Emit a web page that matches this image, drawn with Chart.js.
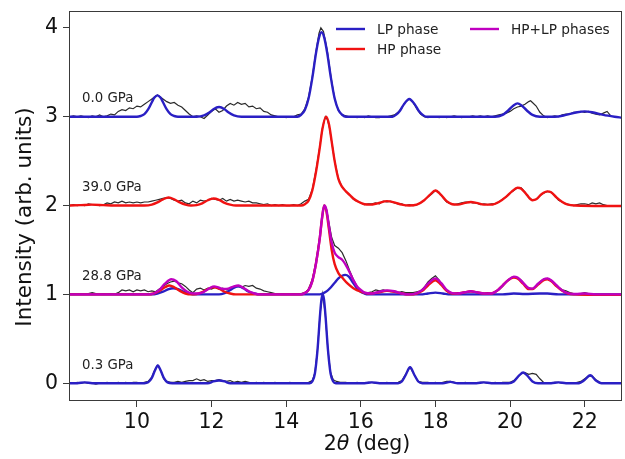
<!DOCTYPE html>
<html>
<head>
<meta charset="utf-8">
<script src="https://cdn.jsdelivr.net/npm/chart.js@4.4.1/dist/chart.umd.min.js"></script>
<style>
  html, body { margin: 0; padding: 0; background: #fff; }
  #wrap { width: 625px; height: 459px; position: relative; }
</style>
</head>
<body>
<div id="wrap"><canvas id="xrdChart"></canvas></div>
<script>
// axis ticks
const xTicks = [10, 12, 14, 16, 18, 20, 22];
const yTicks = [0, 1, 2, 3, 4];

// pressure labels and the y offset of each pattern
const pressureLabels = ['0.0 GPa', '39.0 GPa', '28.8 GPa', '0.3 GPa'];
const pressureOffsets = [3, 2, 1, 0];

// 0.0 GPa : measured pattern + LP fit
const obs00 = [[8.2,3.0],[8.3,3.01],[8.4,3.0],[8.5,3.01],[8.6,3.0],[8.7,2.99],[8.8,3.01],[8.9,3.0],[9.0,3.02],[9.1,3.0],[9.2,3.01],[9.3,3.03],[9.4,3.02],[9.5,3.06],[9.6,3.08],[9.7,3.07],[9.8,3.1],[9.9,3.09],[10.0,3.12],[10.1,3.11],[10.2,3.14],[10.3,3.17],[10.4,3.2],[10.5,3.23],[10.55,3.245],[10.6,3.23],[10.7,3.2],[10.8,3.17],[10.9,3.15],[11.0,3.16],[11.1,3.13],[11.2,3.11],[11.3,3.07],[11.4,3.03],[11.5,3.0],[11.6,3.01],[11.7,3.0],[11.8,2.98],[11.9,3.02],[12.0,3.06],[12.1,3.09],[12.2,3.05],[12.3,3.07],[12.4,3.12],[12.5,3.15],[12.6,3.13],[12.7,3.16],[12.8,3.14],[12.9,3.15],[13.0,3.11],[13.1,3.12],[13.2,3.09],[13.3,3.1],[13.4,3.06],[13.5,3.05],[13.6,3.02],[13.7,3.01],[13.8,3.0],[13.9,3.0],[14.0,2.99],[14.1,3.0],[14.2,3.0],[14.3,3.02],[14.4,3.03],[14.5,3.09],[14.6,3.22],[14.7,3.45],[14.8,3.74],[14.88,3.94],[14.93,4.0],[15.0,3.96],[15.1,3.75],[15.2,3.45],[15.3,3.2],[15.4,3.07],[15.5,3.02],[15.6,3.01],[15.7,3.0],[15.8,3.0],[15.9,2.99],[16.0,3.0],[16.1,2.99],[16.2,3.01],[16.3,3.0],[16.4,2.99],[16.5,2.99],[16.6,3.0],[16.7,3.0],[16.8,3.01],[16.9,3.02],[17.0,3.05],[17.1,3.1],[17.2,3.17],[17.3,3.2],[17.4,3.16],[17.5,3.09],[17.6,3.03],[17.7,3.0],[17.8,2.99],[17.9,3.0],[18.0,3.0],[18.1,2.99],[18.2,3.0],[18.3,2.99],[18.4,3.0],[18.5,3.01],[18.6,3.0],[18.7,2.99],[18.8,3.0],[18.9,3.0],[19.0,3.01],[19.1,3.0],[19.2,3.01],[19.3,3.0],[19.4,3.01],[19.5,3.0],[19.6,3.01],[19.7,3.02],[19.8,3.03],[19.9,3.04],[20.0,3.06],[20.1,3.09],[20.2,3.11],[20.3,3.12],[20.4,3.14],[20.5,3.17],[20.55,3.18],[20.6,3.16],[20.7,3.12],[20.8,3.05],[20.9,3.01],[21.0,2.99],[21.1,3.0],[21.2,3.01],[21.3,3.0],[21.4,3.02],[21.5,3.03],[21.6,3.03],[21.7,3.05],[21.8,3.05],[21.9,3.06],[22.0,3.05],[22.1,3.06],[22.2,3.04],[22.3,3.03],[22.4,3.02],[22.5,3.04],[22.6,3.06],[22.7,3.01]];
const lp00 = [[8.2,3.0],[10.0,3.0],[10.1,3.008],[10.2,3.029],[10.3,3.082],[10.4,3.163],[10.47,3.215],[10.55,3.24],[10.63,3.215],[10.7,3.163],[10.8,3.082],[10.9,3.029],[11.0,3.008],[11.1,3.0],[11.6,3.0],[11.8,3.015],[11.95,3.05],[12.05,3.085],[12.2,3.11],[12.35,3.085],[12.45,3.05],[12.6,3.015],[12.8,3.0],[14.3,3.0],[14.4,3.022],[14.5,3.075],[14.6,3.205],[14.7,3.435],[14.8,3.717],[14.88,3.89],[14.95,3.95],[15.02,3.89],[15.1,3.717],[15.2,3.435],[15.3,3.205],[15.4,3.075],[15.5,3.022],[15.6,3.0],[16.85,3.0],[16.95,3.024],[17.05,3.068],[17.15,3.136],[17.3,3.2],[17.45,3.136],[17.55,3.068],[17.65,3.024],[17.75,3.0],[19.6,3.0],[19.8,3.02],[19.95,3.07],[20.1,3.13],[20.2,3.15],[20.3,3.13],[20.45,3.07],[20.6,3.02],[20.8,3.0],[21.2,3.0],[21.5,3.02],[21.8,3.05],[22.0,3.06],[22.2,3.05],[22.5,3.02],[22.8,3.0],[23.0,2.99]];

// 39.0 GPa : measured pattern + HP fit
const obs390 = [[8.2,2.0],[8.3,2.01],[8.4,2.0],[8.5,2.01],[8.6,2.0],[8.7,2.02],[8.8,2.01],[8.9,2.01],[9.0,2.0],[9.1,2.01],[9.2,2.03],[9.3,2.02],[9.4,2.04],[9.5,2.03],[9.6,2.05],[9.7,2.03],[9.8,2.04],[9.9,2.03],[10.0,2.04],[10.1,2.03],[10.2,2.04],[10.3,2.04],[10.4,2.05],[10.5,2.06],[10.6,2.07],[10.7,2.08],[10.8,2.09],[10.9,2.08],[11.0,2.06],[11.1,2.05],[11.2,2.06],[11.3,2.03],[11.4,2.02],[11.5,2.05],[11.6,2.03],[11.7,2.06],[11.8,2.05],[11.9,2.06],[12.0,2.08],[12.1,2.07],[12.2,2.06],[12.3,2.08],[12.4,2.05],[12.5,2.07],[12.6,2.05],[12.7,2.06],[12.8,2.05],[12.9,2.04],[13.0,2.05],[13.1,2.03],[13.2,2.03],[13.3,2.02],[13.4,2.01],[13.5,2.02],[13.6,2.0],[13.7,2.01],[13.8,2.0],[13.9,2.01],[14.0,2.0],[14.1,2.0],[14.2,2.01],[14.3,2.0],[14.4,2.02],[14.5,2.05],[14.6,2.07],[14.7,2.18],[14.8,2.4],[14.9,2.66],[14.97,2.87],[15.05,3.0],[15.1,2.97],[15.15,2.9],[15.22,2.72],[15.3,2.5],[15.4,2.3],[15.5,2.21],[15.6,2.16],[15.7,2.12],[15.8,2.07],[15.9,2.05],[16.0,2.03],[16.1,2.01],[16.2,2.02],[16.3,2.02],[16.4,2.03],[16.5,2.02],[16.6,2.05],[16.7,2.04],[16.8,2.05],[16.9,2.03],[17.0,2.02],[17.1,2.02],[17.2,2.0],[17.3,2.01],[17.4,2.0],[17.5,2.01],[17.6,2.03],[17.7,2.06],[17.8,2.1],[17.9,2.13],[18.0,2.17],[18.1,2.15],[18.2,2.09],[18.3,2.04],[18.4,2.02],[18.5,2.01],[18.6,2.02],[18.7,2.03],[18.8,2.04],[18.9,2.04],[19.0,2.03],[19.1,2.03],[19.2,2.01],[19.3,2.02],[19.4,2.01],[19.5,2.02],[19.6,2.02],[19.7,2.04],[19.8,2.07],[19.9,2.1],[20.0,2.14],[20.1,2.17],[20.2,2.2],[20.3,2.2],[20.4,2.15],[20.5,2.09],[20.6,2.06],[20.7,2.07],[20.8,2.11],[20.9,2.14],[21.0,2.16],[21.1,2.15],[21.2,2.11],[21.3,2.06],[21.4,2.04],[21.5,2.02],[21.6,2.01],[21.7,2.0],[21.8,2.01],[21.9,2.02],[22.0,2.02],[22.1,2.01],[22.2,2.03],[22.3,2.02],[22.4,2.03],[22.5,2.01],[22.6,2.0],[22.7,2.0]];
const hp390 = [[8.2,2.0],[8.5,2.005],[8.8,2.01],[9.1,2.005],[9.4,2.0],[10.2,2.0],[10.4,2.01],[10.55,2.035],[10.7,2.07],[10.85,2.09],[11.0,2.07],[11.15,2.035],[11.3,2.01],[11.45,2.0],[11.6,2.005],[11.75,2.025],[11.9,2.06],[12.05,2.08],[12.2,2.065],[12.35,2.03],[12.5,2.01],[12.65,2.0],[14.4,2.0],[14.5,2.015],[14.6,2.055],[14.7,2.17],[14.8,2.38],[14.9,2.65],[14.97,2.86],[15.07,3.0],[15.15,2.91],[15.22,2.72],[15.3,2.5],[15.4,2.3],[15.5,2.21],[15.6,2.16],[15.7,2.12],[15.8,2.08],[15.95,2.04],[16.1,2.015],[16.25,2.01],[16.45,2.025],[16.7,2.05],[16.9,2.035],[17.1,2.01],[17.3,2.0],[17.5,2.01],[17.7,2.06],[17.85,2.12],[18.0,2.17],[18.15,2.12],[18.3,2.05],[18.45,2.015],[18.6,2.01],[18.8,2.03],[18.95,2.04],[19.1,2.03],[19.3,2.01],[19.5,2.01],[19.7,2.04],[19.9,2.1],[20.05,2.16],[20.2,2.2],[20.3,2.19],[20.45,2.12],[20.6,2.06],[20.7,2.07],[20.85,2.13],[21.0,2.16],[21.1,2.15],[21.25,2.09],[21.4,2.04],[21.55,2.01],[21.75,2.0],[22.5,1.995],[23.0,1.995]];

// 28.8 GPa : measured pattern + HP, LP and HP+LP fits
const obs288 = [[8.2,1.0],[8.3,1.01],[8.4,1.0],[8.5,1.01],[8.6,1.0],[8.7,1.01],[8.8,1.02],[8.9,1.01],[9.0,1.0],[9.1,1.01],[9.2,1.0],[9.3,1.01],[9.4,1.0],[9.5,1.02],[9.6,1.05],[9.7,1.04],[9.8,1.05],[9.9,1.03],[10.0,1.05],[10.1,1.04],[10.2,1.05],[10.3,1.03],[10.4,1.04],[10.5,1.03],[10.6,1.06],[10.7,1.09],[10.8,1.12],[10.9,1.14],[11.0,1.15],[11.1,1.13],[11.2,1.12],[11.3,1.09],[11.4,1.05],[11.5,1.02],[11.6,1.06],[11.7,1.07],[11.8,1.05],[11.9,1.07],[12.0,1.06],[12.1,1.08],[12.2,1.06],[12.3,1.07],[12.4,1.05],[12.5,1.07],[12.6,1.08],[12.7,1.09],[12.8,1.08],[12.9,1.1],[13.0,1.09],[13.1,1.1],[13.2,1.07],[13.3,1.06],[13.4,1.04],[13.5,1.03],[13.6,1.02],[13.7,1.01],[13.8,1.0],[13.9,1.01],[14.0,1.0],[14.1,1.0],[14.2,1.01],[14.3,1.0],[14.4,1.01],[14.5,1.02],[14.6,1.06],[14.7,1.17],[14.8,1.37],[14.9,1.65],[14.96,1.87],[15.02,2.0],[15.08,1.96],[15.15,1.8],[15.22,1.64],[15.3,1.55],[15.4,1.52],[15.5,1.47],[15.6,1.38],[15.7,1.27],[15.8,1.17],[15.9,1.09],[16.0,1.04],[16.1,1.02],[16.2,1.02],[16.3,1.03],[16.4,1.05],[16.5,1.04],[16.6,1.05],[16.7,1.04],[16.8,1.03],[16.9,1.03],[17.0,1.02],[17.1,1.03],[17.2,1.02],[17.3,1.02],[17.4,1.02],[17.5,1.03],[17.6,1.04],[17.7,1.08],[17.8,1.14],[17.9,1.18],[18.0,1.21],[18.1,1.16],[18.2,1.09],[18.3,1.04],[18.4,1.01],[18.5,1.01],[18.6,1.02],[18.7,1.02],[18.8,1.03],[18.9,1.03],[19.0,1.03],[19.1,1.02],[19.2,1.02],[19.3,1.01],[19.4,1.02],[19.5,1.01],[19.6,1.03],[19.7,1.05],[19.8,1.09],[19.9,1.14],[20.0,1.18],[20.1,1.2],[20.2,1.19],[20.3,1.16],[20.4,1.11],[20.5,1.07],[20.6,1.06],[20.7,1.1],[20.8,1.14],[20.9,1.17],[21.0,1.18],[21.1,1.15],[21.2,1.12],[21.3,1.08],[21.4,1.05],[21.5,1.04],[21.6,1.02],[21.7,1.01],[21.8,1.0],[21.9,1.01],[22.0,1.02],[22.1,1.01],[22.2,1.0],[22.3,1.0],[22.5,1.0],[22.7,1.0]];
const hp288 = [[8.2,1.0],[10.3,1.0],[10.45,1.01],[10.6,1.04],[10.75,1.08],[10.87,1.1],[11.0,1.08],[11.15,1.04],[11.3,1.01],[11.45,1.0],[11.6,1.005],[11.75,1.025],[11.9,1.06],[12.05,1.08],[12.2,1.065],[12.35,1.03],[12.5,1.01],[12.65,1.0],[14.4,1.0],[14.5,1.015],[14.6,1.05],[14.7,1.15],[14.8,1.35],[14.9,1.63],[14.96,1.85],[15.02,2.0],[15.08,1.93],[15.15,1.72],[15.22,1.5],[15.3,1.34],[15.4,1.24],[15.5,1.19],[15.65,1.12],[15.8,1.07],[16.0,1.03],[16.2,1.01],[16.45,1.02],[16.7,1.04],[16.9,1.03],[17.1,1.01],[17.3,1.0],[17.5,1.01],[17.65,1.04],[17.8,1.1],[18.0,1.16],[18.15,1.11],[18.3,1.04],[18.45,1.01],[18.6,1.01],[18.8,1.025],[18.95,1.035],[19.1,1.025],[19.3,1.01],[19.5,1.01],[19.65,1.04],[19.8,1.1],[19.95,1.16],[20.1,1.19],[20.2,1.18],[20.35,1.12],[20.5,1.06],[20.6,1.06],[20.75,1.11],[20.9,1.16],[21.0,1.17],[21.1,1.15],[21.25,1.09],[21.4,1.04],[21.55,1.01],[21.75,1.0],[22.3,0.995],[23.0,0.995]];
const lp288 = [[8.2,1.0],[10.4,1.0],[10.55,1.01],[10.7,1.03],[10.85,1.06],[10.97,1.07],[11.1,1.06],[11.25,1.03],[11.4,1.01],[11.55,1.0],[12.2,1.0],[12.35,1.015],[12.5,1.05],[12.62,1.08],[12.72,1.09],[12.85,1.07],[13.0,1.03],[13.15,1.01],[13.3,1.0],[14.9,1.0],[15.0,1.015],[15.1,1.04],[15.2,1.08],[15.3,1.13],[15.4,1.18],[15.5,1.21],[15.58,1.22],[15.68,1.2],[15.78,1.14],[15.88,1.08],[15.98,1.035],[16.1,1.01],[16.2,1.0],[17.6,1.0],[17.8,1.01],[18.0,1.02],[18.2,1.01],[18.4,1.0],[19.8,1.0],[20.1,1.01],[20.4,1.005],[20.8,1.01],[21.0,1.01],[21.3,1.0],[23.0,1.0]];
const mix288 = [[8.2,1.0],[10.3,1.0],[10.45,1.01],[10.6,1.05],[10.75,1.12],[10.92,1.17],[11.05,1.15],[11.2,1.08],[11.35,1.03],[11.5,1.01],[11.65,1.01],[11.8,1.03],[11.95,1.07],[12.07,1.09],[12.2,1.075],[12.33,1.06],[12.45,1.065],[12.6,1.09],[12.72,1.1],[12.85,1.075],[13.0,1.035],[13.15,1.01],[13.3,1.0],[14.4,1.0],[14.5,1.015],[14.6,1.05],[14.7,1.15],[14.8,1.35],[14.9,1.63],[14.96,1.86],[15.02,2.0],[15.08,1.95],[15.15,1.76],[15.22,1.58],[15.3,1.47],[15.4,1.42],[15.5,1.39],[15.6,1.33],[15.7,1.25],[15.8,1.16],[15.9,1.09],[16.0,1.05],[16.1,1.02],[16.3,1.01],[16.5,1.03],[16.7,1.045],[16.9,1.035],[17.1,1.01],[17.3,1.0],[17.5,1.015],[17.65,1.05],[17.8,1.12],[18.0,1.18],[18.15,1.13],[18.3,1.05],[18.45,1.015],[18.6,1.01],[18.8,1.025],[18.95,1.035],[19.1,1.025],[19.3,1.01],[19.5,1.01],[19.65,1.04],[19.8,1.1],[19.95,1.16],[20.1,1.2],[20.2,1.19],[20.35,1.13],[20.5,1.07],[20.6,1.065],[20.75,1.12],[20.9,1.17],[21.0,1.18],[21.1,1.16],[21.25,1.1],[21.4,1.045],[21.55,1.015],[21.75,1.005],[22.0,1.01],[22.3,1.0],[23.0,1.0]];

// 0.3 GPa : measured pattern + LP fit
const obs03 = [[8.2,0.0],[8.3,0.0],[8.4,0.01],[8.5,0.0],[8.6,0.01],[8.7,0.0],[8.8,0.0],[8.9,-0.01],[9.0,0.0],[9.1,0.0],[9.2,0.01],[9.3,0.0],[9.4,0.0],[9.5,0.01],[9.6,0.0],[9.7,0.01],[9.8,0.0],[9.9,0.01],[10.0,0.01],[10.1,0.0],[10.2,0.01],[10.3,0.02],[10.4,0.07],[10.48,0.15],[10.56,0.2],[10.64,0.14],[10.72,0.05],[10.8,0.02],[10.9,0.01],[11.0,0.01],[11.1,0.02],[11.2,0.01],[11.3,0.02],[11.4,0.03],[11.5,0.03],[11.6,0.05],[11.7,0.03],[11.8,0.04],[11.9,0.02],[12.0,0.03],[12.1,0.03],[12.2,0.04],[12.3,0.03],[12.4,0.02],[12.5,0.03],[12.6,0.01],[12.7,0.02],[12.8,0.01],[12.9,0.02],[13.0,0.01],[13.1,0.0],[13.2,0.01],[13.3,0.0],[13.4,0.01],[13.5,0.0],[13.6,0.0],[13.7,0.01],[13.8,0.0],[13.9,0.0],[14.0,0.0],[14.1,0.01],[14.2,0.0],[14.3,0.0],[14.4,0.0],[14.5,0.0],[14.6,0.01],[14.7,0.03],[14.77,0.12],[14.84,0.38],[14.91,0.79],[14.98,1.0],[15.05,0.77],[15.12,0.37],[15.19,0.12],[15.26,0.04],[15.35,0.02],[15.45,0.01],[15.6,0.01],[15.7,0.0],[15.8,0.0],[15.9,0.01],[16.0,0.0],[16.1,0.0],[16.2,0.01],[16.3,0.01],[16.4,0.0],[16.5,0.0],[16.6,0.0],[16.7,0.01],[16.8,0.0],[16.9,0.0],[17.0,0.01],[17.1,0.03],[17.2,0.1],[17.32,0.18],[17.44,0.09],[17.54,0.02],[17.65,0.01],[17.8,0.01],[17.9,0.0],[18.0,0.01],[18.1,0.0],[18.2,0.01],[18.3,0.02],[18.4,0.02],[18.5,0.01],[18.6,0.0],[18.7,0.0],[18.8,0.01],[18.9,0.0],[19.0,0.0],[19.1,0.0],[19.2,0.01],[19.3,0.01],[19.4,0.0],[19.5,0.0],[19.6,0.01],[19.7,0.0],[19.8,0.01],[19.9,0.01],[20.0,0.01],[20.1,0.03],[20.2,0.07],[20.3,0.11],[20.4,0.12],[20.5,0.1],[20.6,0.11],[20.7,0.1],[20.8,0.05],[20.9,0.01],[21.0,0.0],[21.1,0.0],[21.2,0.01],[21.3,0.01],[21.4,0.0],[21.5,0.0],[21.6,0.0],[21.7,0.0],[21.8,0.01],[21.9,0.02],[22.0,0.05],[22.1,0.08],[22.2,0.08],[22.3,0.04],[22.4,0.01],[22.5,0.0],[22.6,0.0],[22.7,0.0]];
const lp03 = [[8.2,0.0],[8.4,0.0],[8.6,0.01],[8.8,0.0],[10.2,0.0],[10.3,0.01],[10.4,0.06],[10.48,0.14],[10.56,0.2],[10.64,0.14],[10.72,0.06],[10.82,0.01],[10.95,0.0],[11.9,0.0],[12.05,0.02],[12.2,0.03],[12.35,0.02],[12.5,0.0],[14.63,0.0],[14.7,0.02],[14.77,0.11],[14.84,0.375],[14.91,0.78],[14.945,0.94],[14.98,1.0],[15.015,0.94],[15.05,0.78],[15.12,0.375],[15.19,0.11],[15.26,0.02],[15.33,0.0],[16.1,0.0],[16.3,0.01],[16.5,0.0],[17.0,0.0],[17.1,0.02],[17.2,0.09],[17.32,0.18],[17.44,0.09],[17.54,0.02],[17.65,0.0],[18.2,0.0],[18.4,0.015],[18.6,0.0],[19.1,0.0],[19.3,0.01],[19.5,0.0],[19.95,0.0],[20.1,0.02],[20.25,0.09],[20.35,0.12],[20.45,0.09],[20.6,0.02],[20.75,0.0],[21.1,0.0],[21.3,0.01],[21.5,0.0],[21.85,0.0],[21.98,0.03],[22.15,0.09],[22.3,0.03],[22.45,0.0],[23.0,0.0]];

const BLUE = '#2a1fc4';
const RED = '#f01212';
const MAGENTA = '#c000c0';
const DATA_GREY = '#2b2b2b';
const FONT = "'DejaVu Sans', sans-serif";

function pts(arr) {
    return arr.map(p => ({ x: p[0], y: p[1] }));
}

function obsSet(arr) {
    return { data: pts(arr), borderColor: DATA_GREY, borderWidth: 1.2, tension: 0, order: 5 };
}

function fitSet(arr, color, order) {
    return { data: pts(arr), borderColor: color, borderWidth: 2.4, cubicInterpolationMode: 'monotone', order: order };
}

// frame, pressure labels, legend and axis titles
const decorations = {
    id: 'decorations',
    afterDraw(chart) {
        const ctx = chart.ctx;
        const a = chart.chartArea;
        const xs = chart.scales.x, ys = chart.scales.y;
        ctx.save();

        ctx.strokeStyle = '#3a3a3a';
        ctx.lineWidth = 1;
        ctx.strokeRect(Math.round(a.left) + 0.5, Math.round(a.top) + 0.5,
            Math.round(a.right - a.left) - 1, Math.round(a.bottom - a.top) - 1);

        ctx.fillStyle = '#222';
        ctx.font = '13.3px ' + FONT;
        ctx.textAlign = 'left';
        ctx.textBaseline = 'middle';
        pressureLabels.forEach((lab, i) => {
            ctx.fillText(lab, xs.getPixelForValue(8.53), ys.getPixelForValue(pressureOffsets[i] + 0.2));
        });

        // legend, two columns
        const items = [
            { text: 'LP phase', color: BLUE, x: 336, y: 29 },
            { text: 'HP phase', color: RED, x: 336, y: 49 },
            { text: 'HP+LP phases', color: MAGENTA, x: 470, y: 29 }
        ];
        ctx.font = '13.7px ' + FONT;
        ctx.lineWidth = 2.4;
        items.forEach(it => {
            ctx.strokeStyle = it.color;
            ctx.beginPath();
            ctx.moveTo(it.x, it.y);
            ctx.lineTo(it.x + 29, it.y);
            ctx.stroke();
            ctx.fillStyle = '#222';
            ctx.fillText(it.text, it.x + 41, it.y + 1);
        });

        // y axis title
        ctx.fillStyle = '#111';
        ctx.font = '21.5px ' + FONT;
        ctx.textAlign = 'center';
        ctx.save();
        ctx.translate(25, 217);
        ctx.rotate(-Math.PI / 2);
        ctx.fillText('Intensity (arb. units)', 0, 0);
        ctx.restore();

        // x axis title with italic theta
        const parts = [['2', '20.5px ' + FONT], ['θ', 'italic 20.5px ' + FONT], [' (deg)', '20.5px ' + FONT]];
        let total = 0;
        parts.forEach(p => { ctx.font = p[1]; total += ctx.measureText(p[0]).width; });
        let x = 367 - total / 2;
        ctx.textAlign = 'left';
        parts.forEach(p => {
            ctx.font = p[1];
            ctx.fillText(p[0], x, 445);
            x += ctx.measureText(p[0]).width;
        });
        ctx.restore();
    }
};

const ctx = document.getElementById('xrdChart').getContext('2d');
new Chart(ctx, {
    type: 'line',
    data: {
        datasets: [
            obsSet(obs00), fitSet(lp00, BLUE, 3),
            obsSet(obs390), fitSet(hp390, RED, 2),
            obsSet(obs288), fitSet(lp288, BLUE, 3), fitSet(hp288, RED, 2), fitSet(mix288, MAGENTA, 1),
            obsSet(obs03), fitSet(lp03, BLUE, 3)
        ]
    },
    options: {
        responsive: true,
        maintainAspectRatio: false,
        animation: false,
        elements: { point: { radius: 0 } },
        layout: { padding: { top: 11, right: 3, left: 0, bottom: 0 } },
        plugins: { legend: { display: false }, tooltip: { enabled: false } },
        scales: {
            x: {
                type: 'linear',
                min: 8.18,
                max: 23.0,
                afterBuildTicks: s => { s.ticks = xTicks.map(v => ({ value: v })); },
                afterFit: s => { s.height = 58; s.paddingLeft = 0; s.paddingRight = 0; },
                border: { display: false },
                grid: { drawOnChartArea: false, drawTicks: true, tickLength: 6, color: '#3a3a3a' },
                ticks: { color: '#111', font: { family: FONT, size: 20.5 }, padding: 3, maxRotation: 0 }
            },
            y: {
                min: -0.2,
                max: 4.19,
                afterBuildTicks: s => { s.ticks = yTicks.map(v => ({ value: v })); },
                afterFit: s => { s.width = 69; s.paddingTop = 0; s.paddingBottom = 0; },
                border: { display: false },
                grid: { drawOnChartArea: false, drawTicks: true, tickLength: 6, color: '#3a3a3a' },
                ticks: { color: '#111', font: { family: FONT, size: 20.5 }, padding: 5 }
            }
        }
    },
    plugins: [decorations]
});
</script>
</body>
</html>
